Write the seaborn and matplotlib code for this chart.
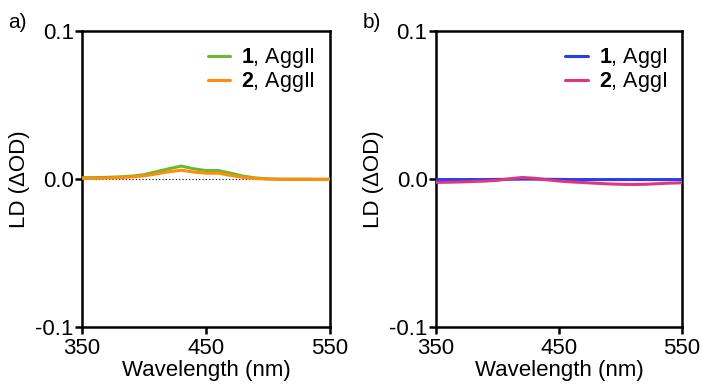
import matplotlib
matplotlib.use("Agg")
import matplotlib.pyplot as plt
import numpy as np
import pandas as pd
import seaborn as sns

wavelength = [350, 360, 370, 380, 390, 400, 410, 420, 430, 440, 450,
              460, 470, 480, 490, 500, 510, 520, 530, 540, 550]

# panel a) AggII
ld_1_aggII = [0.0010, 0.0010, 0.0012, 0.0015, 0.0020, 0.0030, 0.0050, 0.0070, 0.0088, 0.0070, 0.0058,
              0.0058, 0.0040, 0.0020, 0.0008, 0.0002, 0.0000, 0.0000, 0.0000, -0.0001, -0.0001]
ld_2_aggII = [0.0005, 0.0005, 0.0007, 0.0010, 0.0015, 0.0022, 0.0035, 0.0050, 0.0060, 0.0048, 0.0040,
              0.0040, 0.0025, 0.0012, 0.0004, 0.0000, -0.0002, -0.0002, -0.0002, -0.0002, -0.0002]

# panel b) AggI
ld_1_aggI = [-0.0003, -0.0003, -0.0003, -0.0003, -0.0003, -0.0002, -0.0001, 0.0000, 0.0000, -0.0001, -0.0002,
             -0.0003, -0.0003, -0.0003, -0.0003, -0.0003, -0.0003, -0.0003, -0.0003, -0.0003, -0.0003]
ld_2_aggI = [-0.0022, -0.0021, -0.0019, -0.0016, -0.0013, -0.0008, 0.0002, 0.0011, 0.0006, -0.0004, -0.0013,
             -0.0019, -0.0023, -0.0028, -0.0032, -0.0035, -0.0036, -0.0035, -0.0031, -0.0027, -0.0025]

sns.set_theme(style="ticks")
plt.rcParams["font.family"] = ["Liberation Sans", "DejaVu Sans"]
plt.rcParams["mathtext.fontset"] = "custom"
plt.rcParams["mathtext.bf"] = "Liberation Sans:bold"
plt.rcParams["mathtext.rm"] = "Liberation Sans"
plt.rcParams["text.color"] = "black"
plt.rcParams["axes.labelcolor"] = "black"
plt.rcParams["xtick.color"] = "black"
plt.rcParams["ytick.color"] = "black"

fig = plt.figure(figsize=(7.02, 3.85), dpi=100)
ax_a = fig.add_axes([0.1168, 0.1500, 0.3533, 0.7695])
ax_b = fig.add_axes([0.621, 0.1500, 0.3504, 0.7695])

df_a = pd.DataFrame({
    "wl": wavelength * 2,
    "ld": ld_1_aggII + ld_2_aggII,
    "series": [r"$\mathbf{1}$, AggII"] * len(wavelength) + [r"$\mathbf{2}$, AggII"] * len(wavelength),
})
df_b = pd.DataFrame({
    "wl": wavelength * 2,
    "ld": ld_1_aggI + ld_2_aggI,
    "series": [r"$\mathbf{1}$, AggI"] * len(wavelength) + [r"$\mathbf{2}$, AggI"] * len(wavelength),
})

ax_a.axhline(0, color="black", lw=0.8, ls=(0, (1, 2)), zorder=1)
sns.lineplot(data=df_a, x="wl", y="ld", hue="series", ax=ax_a,
             palette=["#6cb82e", "#ff8c0a"], lw=2.2, zorder=3)
sns.lineplot(data=df_b, x="wl", y="ld", hue="series", ax=ax_b,
             palette=["#2a3cf0", "#e0357f"], lw=2.2, zorder=3)

for ax, tag in [(ax_a, "a)"), (ax_b, "b)")]:
    ax.set_xlim(350, 550)
    ax.set_ylim(-0.1, 0.1)
    ax.set_xticks([350, 450, 550])
    ax.set_yticks([-0.1, 0.0, 0.1])
    ax.set_yticklabels(["-0.1", "0.0", "0.1"])
    ax.set_xlabel("Wavelength (nm)", fontsize=16, labelpad=1)
    ax.set_ylabel("LD (\u0394OD)", fontsize=16, labelpad=4)
    ax.tick_params(axis="both", labelsize=16, width=1.8, length=5, direction="out")
    ax.tick_params(axis="x", pad=2.5)
    ax.tick_params(axis="y", pad=1)
    for sp in ax.spines.values():
        sp.set_linewidth(1.8)
        sp.set_color("black")
    leg = ax.legend(loc="upper right", frameon=False, fontsize=15.5, handlelength=1.05,
                    handletextpad=0.5, labelspacing=0.0, borderaxespad=0.3)
    for line in leg.get_lines():
        line.set_linewidth(2.2)
    pos = ax.get_position()
    fig.text(pos.x0 - 0.105, 0.965, tag, fontsize=15, ha="left", va="top")

fig.savefig("out.png", dpi=100)
